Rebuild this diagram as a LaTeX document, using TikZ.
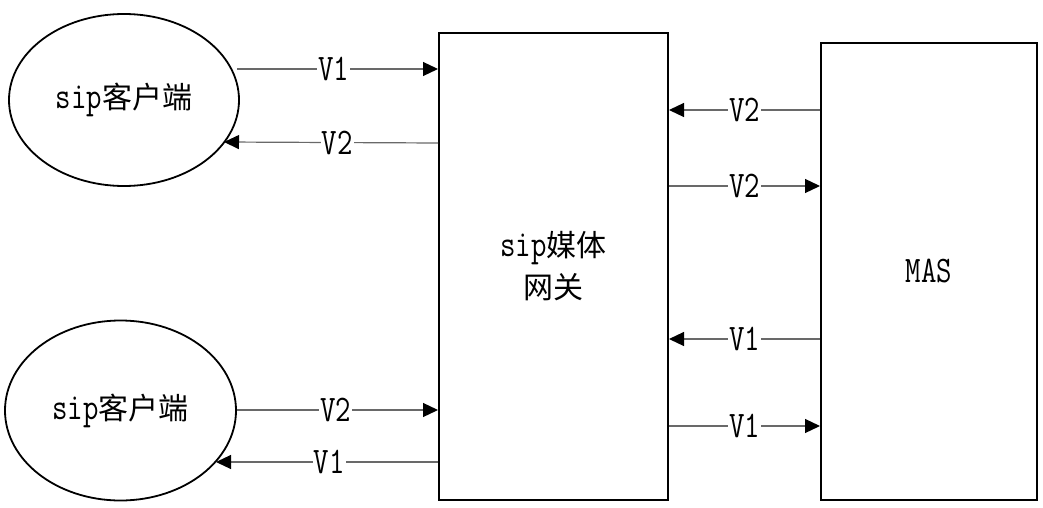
\documentclass[tikz,border=0pt]{standalone}
\usepackage{fontspec}
\newfontfamily\cjk{Noto Sans CJK SC}
\usetikzlibrary{shapes.geometric,arrows.meta}
\definecolor{linegray}{RGB}{105,105,105}
\newcommand\lat[1]{\scalebox{1}[1.25]{\ttfamily #1}}
\tikzset{
  ell/.style={ellipse,draw=black,line width=1.8pt,minimum width=230pt,minimum height=172pt,inner sep=0pt,font=\fontsize{30}{36}\selectfont},
  block/.style={rectangle,draw=black,line width=2pt,inner sep=0pt,font=\fontsize{30}{36}\selectfont,align=center},
  flow/.style={draw=linegray,line width=1.2pt,-{Triangle[length=15pt,width=14pt,color=black,fill=black]}},
  lab/.style={fill=white,inner sep=1pt,font=\fontsize{30}{36}\selectfont}
}
\begin{document}
\begin{tikzpicture}[x=1pt,y=-1pt]
\useasboundingbox[fill=white] (0,0) rectangle (1043,508);
\node[ell] (c1) at (124,100) {\lat{sip}\cjk 客户端};
\node[ell,minimum width=231pt,minimum height=180pt] (c2) at (120.5,410.5) {\lat{sip}\cjk 客户端};
\node[block,minimum width=229pt,minimum height=467pt] (gw) at (553.5,266.5) {\lat{sip}{\cjk 媒体}\\[6pt]{\cjk 网关}};
\node[block,minimum width=216pt,minimum height=457pt] (mas) at (929,271.5) {\lat{MAS}};
% free ends on the ellipses
\coordinate (c1a) at (237,69);
\coordinate (c1b) at (224,142);
\coordinate (c2a) at (237,410);
\coordinate (c2b) at (216,462);
% left side
\draw[flow] (c1a) -- (gw.west |- c1a) node[lab,pos=0.48] {\lat{V1}};
\draw[flow] (gw.west |- 0,143) -- (c1b) node[lab,pos=0.47] {\lat{V2}};
\draw[flow] (c2a) -- (gw.west |- c2a) node[lab,pos=0.49] {\lat{V2}};
\draw[flow] (gw.west |- c2b) -- (c2b) node[lab,pos=0.49] {\lat{V1}};
% right side
\draw[flow] (mas.west |- 0,110) -- (gw.east |- 0,110) node[lab,midway] {\lat{V2}};
\draw[flow] (gw.east |- 0,186) -- (mas.west |- 0,186) node[lab,midway] {\lat{V2}};
\draw[flow] (mas.west |- 0,339) -- (gw.east |- 0,339) node[lab,midway] {\lat{V1}};
\draw[flow] (gw.east |- 0,426) -- (mas.west |- 0,426) node[lab,midway] {\lat{V1}};
\end{tikzpicture}
\end{document}
